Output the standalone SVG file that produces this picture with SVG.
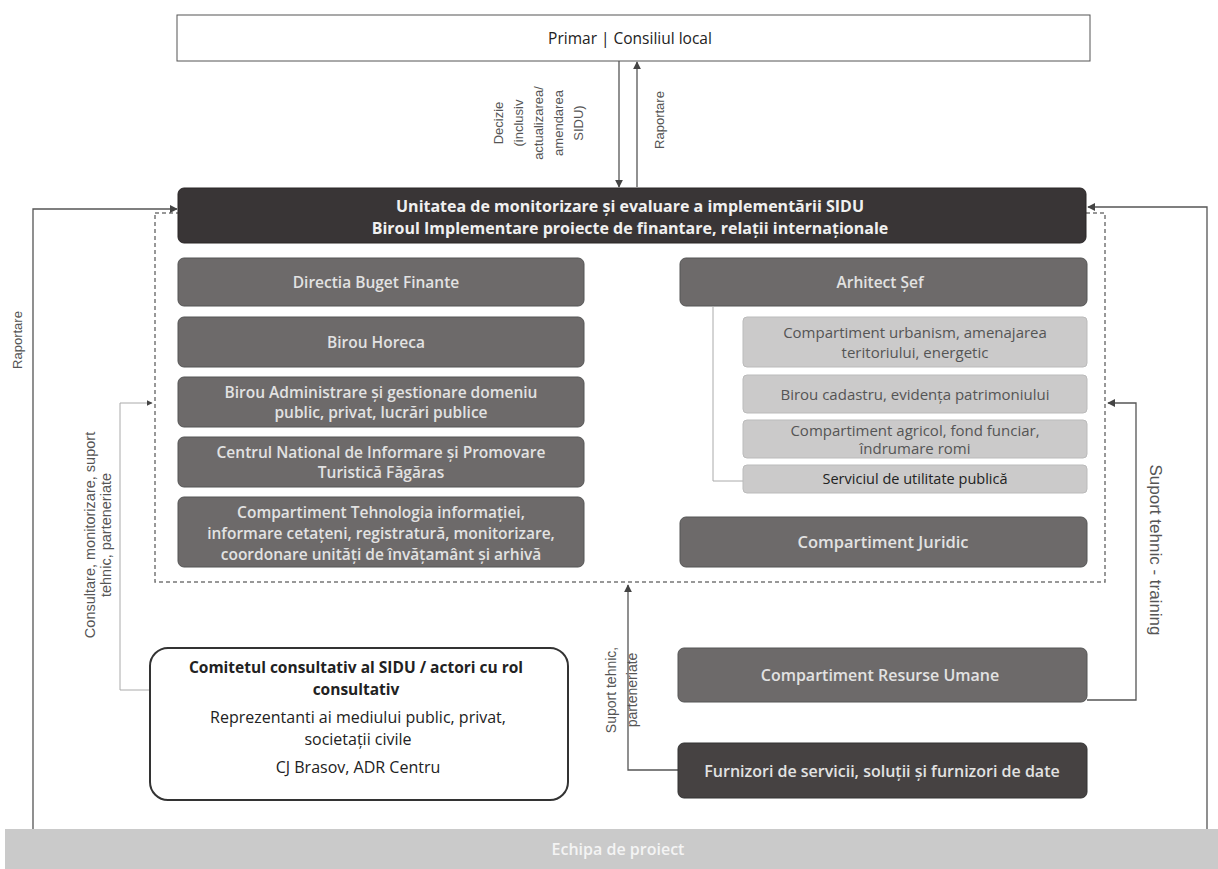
<svg xmlns="http://www.w3.org/2000/svg" width="1218" height="869" viewBox="0 0 1218 869">
<defs>
<marker id="arr" viewBox="0 0 10 10" refX="9" refY="5" markerWidth="6" markerHeight="6" orient="auto-start-reverse"><path d="M0,0 L10,5 L0,10 z" fill="#444"/></marker>
<style>
text{font-family:"Open Sans","Liberation Sans","DejaVu Sans",sans-serif;}
.mid{fill:#6d6a6a;stroke:#555;stroke-width:1;}
.light{fill:#cbcaca;stroke:#bbb;stroke-width:1;}
.dark{fill:#393536;stroke:#2a2627;stroke-width:1;}
.tm{fill:#e2e2e2;font-size:15.5px;font-weight:600;text-anchor:middle;}
.tl{fill:#555;font-size:15px;text-anchor:middle;}
.tw{fill:#f0f0f0;font-size:16px;font-weight:bold;text-anchor:middle;}
.tk{fill:#222;font-size:15.5px;text-anchor:middle;}
.lbl{fill:#555;font-size:13px;text-anchor:middle;font-family:"Liberation Sans","DejaVu Sans",sans-serif;}
.ln{fill:none;stroke:#555;stroke-width:1.3;}
.lnl{fill:none;stroke:#aaa;stroke-width:1;}
</style>
</defs>
<rect width="1218" height="869" fill="#ffffff"/>

<g id="frame">
<rect x="155" y="213" width="950" height="369" fill="none" stroke="#777" stroke-width="1.5" stroke-dasharray="4 3"/>
</g>

<g id="connectors">
<line class="ln" x1="619" y1="61" x2="619" y2="187" marker-end="url(#arr)"/>
<line class="ln" x1="637" y1="187" x2="637" y2="62" marker-end="url(#arr)"/>
<polyline class="ln" points="33,830 33,209 177,209" marker-end="url(#arr)"/>
<polyline class="ln" points="1207,830 1207,207 1088,207" marker-end="url(#arr)"/>
<polyline class="lnl" points="150,690 120,690 120,403 152,403" marker-end="url(#arr)"/>
<polyline class="ln" points="1087,700 1136,700 1136,403 1108,403" marker-end="url(#arr)"/>
<polyline class="ln" points="678,770 628,770 628,585" marker-end="url(#arr)"/>
<polyline class="lnl" points="713,307 713,481 743,481"/>
<line x1="487" y1="830" x2="530" y2="830" stroke="#333" stroke-width="2"/>
<text class="lbl" transform="translate(503,123) rotate(-90)">Decizie</text>
<text class="lbl" transform="translate(523,123) rotate(-90)">(inclusiv</text>
<text class="lbl" transform="translate(543,123) rotate(-90)">actualizarea/</text>
<text class="lbl" transform="translate(563,123) rotate(-90)">amendarea</text>
<text class="lbl" transform="translate(583,123) rotate(-90)">SIDU)</text>
<text class="lbl" transform="translate(664,120) rotate(-90)">Raportare</text>
<text class="lbl" transform="translate(22,340) rotate(-90)">Raportare</text>
<text class="lbl" transform="translate(95,535) rotate(-90)" style="font-size:14.5px">Consultare, monitorizare, suport</text>
<text class="lbl" transform="translate(111,535) rotate(-90)" style="font-size:14.5px">tehnic, parteneriate</text>
<text class="lbl" transform="translate(616,690) rotate(-90)" style="font-size:14px">Suport tehnic,</text>
<text class="lbl" transform="translate(637,690) rotate(-90)" style="font-size:14px">parteneriate</text>
<text class="lbl" transform="translate(1150,550) rotate(90)" style="font-size:17px">Suport tehnic - training</text>
</g>

<g id="primar">
<rect x="177" y="15" width="913" height="46" fill="#fff" stroke="#555" stroke-width="1"/>
<text class="tk" x="630" y="44">Primar | Consiliul local</text>
</g>

<g id="unitatea">
<rect class="dark" x="178" y="188" width="908" height="55" rx="6"/>
<text class="tw" x="630" y="212">Unitatea de monitorizare și evaluare a implementării SIDU</text>
<text class="tw" x="630" y="234">Biroul Implementare proiecte de finantare, relații internaționale</text>
</g>

<g id="buget">
<rect class="mid" x="178" y="258" width="406" height="48" rx="6"/>
<text class="tm" x="376" y="288">Directia Buget Finante</text>
</g>
<g id="horeca">
<rect class="mid" x="178" y="317" width="406" height="50" rx="6"/>
<text class="tm" x="376" y="348">Birou Horeca</text>
</g>
<g id="administrare">
<rect class="mid" x="178" y="377" width="406" height="50" rx="6"/>
<text class="tm" x="381" y="398">Birou Administrare și gestionare domeniu</text>
<text class="tm" x="381" y="418">public, privat, lucrări publice</text>
</g>
<g id="centrul">
<rect class="mid" x="178" y="437" width="406" height="50" rx="6"/>
<text class="tm" x="381" y="458">Centrul National de Informare și Promovare</text>
<text class="tm" x="381" y="478">Turistică Făgăras</text>
</g>
<g id="it">
<rect class="mid" x="178" y="497" width="406" height="70" rx="6"/>
<text class="tm" x="381" y="518">Compartiment Tehnologia informației,</text>
<text class="tm" x="381" y="539">informare cetațeni, registratură, monitorizare,</text>
<text class="tm" x="381" y="560">coordonare unități de învățamânt și arhivă</text>
</g>

<g id="arhitect">
<rect class="mid" x="680" y="258" width="407" height="48" rx="6"/>
<text class="tm" x="880" y="288">Arhitect Șef</text>
</g>
<g id="urbanism">
<rect class="light" x="743" y="317" width="344" height="50" rx="4"/>
<text class="tl" x="915" y="338">Compartiment urbanism, amenajarea</text>
<text class="tl" x="915" y="358">teritoriului, energetic</text>
</g>
<g id="cadastru">
<rect class="light" x="743" y="375" width="344" height="38" rx="4"/>
<text class="tl" x="915" y="400">Birou cadastru, evidența patrimoniului</text>
</g>
<g id="agricol">
<rect class="light" x="743" y="420" width="344" height="38" rx="4"/>
<text class="tl" x="915" y="436">Compartiment agricol, fond funciar,</text>
<text class="tl" x="915" y="454">îndrumare romi</text>
</g>
<g id="serviciul">
<rect class="light" x="743" y="465" width="344" height="28" rx="4"/>
<text class="tk" x="915" y="484" style="font-size:14.5px">Serviciul de utilitate publică</text>
</g>
<g id="juridic">
<rect class="mid" x="680" y="517" width="407" height="50" rx="6"/>
<text class="tm" x="883" y="548" style="font-size:16.5px">Compartiment Juridic</text>
</g>

<g id="comitetul">
<rect x="150" y="648" width="418" height="152" rx="18" fill="#fff" stroke="#333" stroke-width="2"/>
<text class="tk" x="356" y="673" font-weight="bold">Comitetul consultativ al SIDU / actori cu rol</text>
<text class="tk" x="356" y="695" font-weight="bold">consultativ</text>
<text class="tk" x="358" y="723" style="font-size:16px">Reprezentanti ai mediului public, privat,</text>
<text class="tk" x="358" y="745" style="font-size:16px">societații civile</text>
<text class="tk" x="358" y="773" style="font-size:16px">CJ Brasov, ADR Centru</text>
</g>

<g id="resurse">
<rect class="mid" x="678" y="648" width="409" height="54" rx="6"/>
<text class="tm" x="880" y="681" style="font-size:16px">Compartiment Resurse Umane</text>
</g>
<g id="furnizori">
<rect x="678" y="743" width="409" height="55" rx="6" fill="#464242" stroke="#333"/>
<text class="tm" x="882" y="777" style="font-size:16px">Furnizori de servicii, soluții și furnizori de date</text>
</g>

<g id="echipa">
<rect x="5" y="829" width="1213" height="40" fill="#cacaca"/>
<text x="618" y="855" font-size="16" font-weight="600" fill="#f4f4f4" text-anchor="middle">Echipa de proiect</text>
</g>
</svg>
